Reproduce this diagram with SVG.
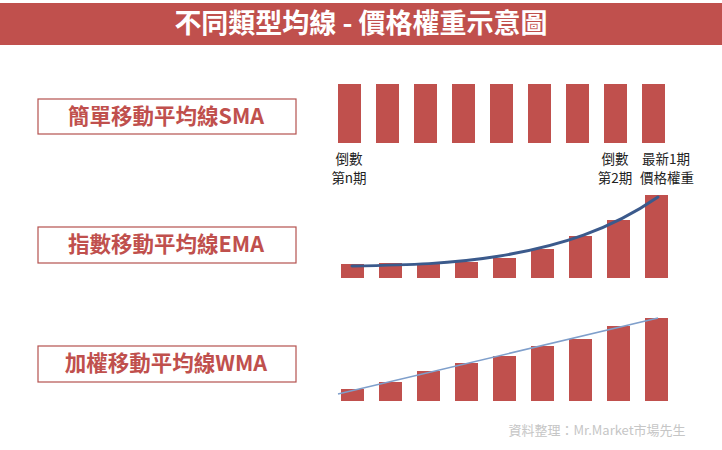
<svg xmlns="http://www.w3.org/2000/svg" width="722" height="450" viewBox="0 0 722 450">
<style>
.bar{fill:#c0504d}
.box rect{fill:#fff;stroke:#b5524f;stroke-width:1.2}
.box text{fill:#c0504d;font-family:"Noto Sans CJK TC","Noto Sans",sans-serif;font-weight:bold;font-size:21.5px;text-anchor:middle}
.lbl{fill:#222;font-family:"Noto Sans CJK TC","Noto Sans",sans-serif;font-size:13.5px;text-anchor:middle}
</style>
<rect width="722" height="450" fill="#fff"/>
<g id="title">
<rect x="0" y="3" width="722" height="42" fill="#c0504d"/>
<text x="361" y="33" fill="#fff" font-family="'Noto Sans CJK TC','Noto Sans',sans-serif" font-weight="bold" font-size="27" text-anchor="middle">不同類型均線 - 價格權重示意圖</text>
</g>
<g id="sma" class="box"><rect x="38" y="99" width="258" height="35"/><text x="166" y="124">簡單移動平均線SMA</text></g>
<g id="ema" class="box"><rect x="38" y="227" width="258" height="36"/><text x="166" y="252">指數移動平均線EMA</text></g>
<g id="wma" class="box"><rect x="38" y="346" width="258" height="36"/><text x="166" y="371">加權移動平均線WMA</text></g>
<g id="sma-bars">
<rect class="bar" x="338" y="84" width="23" height="59"/>
<rect class="bar" x="376" y="84" width="23" height="59"/>
<rect class="bar" x="414" y="84" width="23" height="59"/>
<rect class="bar" x="452" y="84" width="23" height="59"/>
<rect class="bar" x="490" y="84" width="23" height="59"/>
<rect class="bar" x="528" y="84" width="23" height="59"/>
<rect class="bar" x="566" y="84" width="23" height="59"/>
<rect class="bar" x="604" y="84" width="23" height="59"/>
<rect class="bar" x="642" y="84" width="23" height="59"/>
</g>
<g id="labels">
<text class="lbl" x="349" y="164">倒數</text>
<text class="lbl" x="349" y="183">第n期</text>
<text class="lbl" x="615" y="164">倒數</text>
<text class="lbl" x="615" y="183">第2期</text>
<text class="lbl" x="666" y="164">最新1期</text>
<text class="lbl" x="667" y="183">價格權重</text>
</g>
<g id="ema-bars">
<rect class="bar" x="341" y="264" width="23" height="14"/>
<rect class="bar" x="379" y="263" width="23" height="15"/>
<rect class="bar" x="417" y="263" width="23" height="15"/>
<rect class="bar" x="455" y="262" width="23" height="16"/>
<rect class="bar" x="493" y="258" width="23" height="20"/>
<rect class="bar" x="531" y="249" width="23" height="29"/>
<rect class="bar" x="569" y="236" width="23" height="42"/>
<rect class="bar" x="607" y="220" width="23" height="58"/>
<rect class="bar" x="645" y="195" width="23" height="83"/>
</g>
<g id="wma-bars">
<rect class="bar" x="341" y="389" width="23" height="12"/>
<rect class="bar" x="379" y="382" width="23" height="19"/>
<rect class="bar" x="417" y="371" width="23" height="30"/>
<rect class="bar" x="455" y="363" width="23" height="38"/>
<rect class="bar" x="493" y="356" width="23" height="45"/>
<rect class="bar" x="531" y="346" width="23" height="55"/>
<rect class="bar" x="569" y="339" width="23" height="62"/>
<rect class="bar" x="607" y="326" width="23" height="75"/>
<rect class="bar" x="645" y="318" width="23" height="83"/>
</g>
<g id="connectors" fill="none">
<path d="M352,266 C410,265 450,264 500,256 C560,246 610,230 658,197" stroke="#3b5a8c" stroke-width="3" stroke-linecap="round"/>
<path d="M338,394 L658,318" stroke="#7f9fcb" stroke-width="1.5"/>
</g>
<text x="597" y="435" fill="#c6c6c6" font-family="'Noto Sans CJK TC','Noto Sans',sans-serif" font-size="13" text-anchor="middle">資料整理：Mr.Market市場先生</text>
</svg>
